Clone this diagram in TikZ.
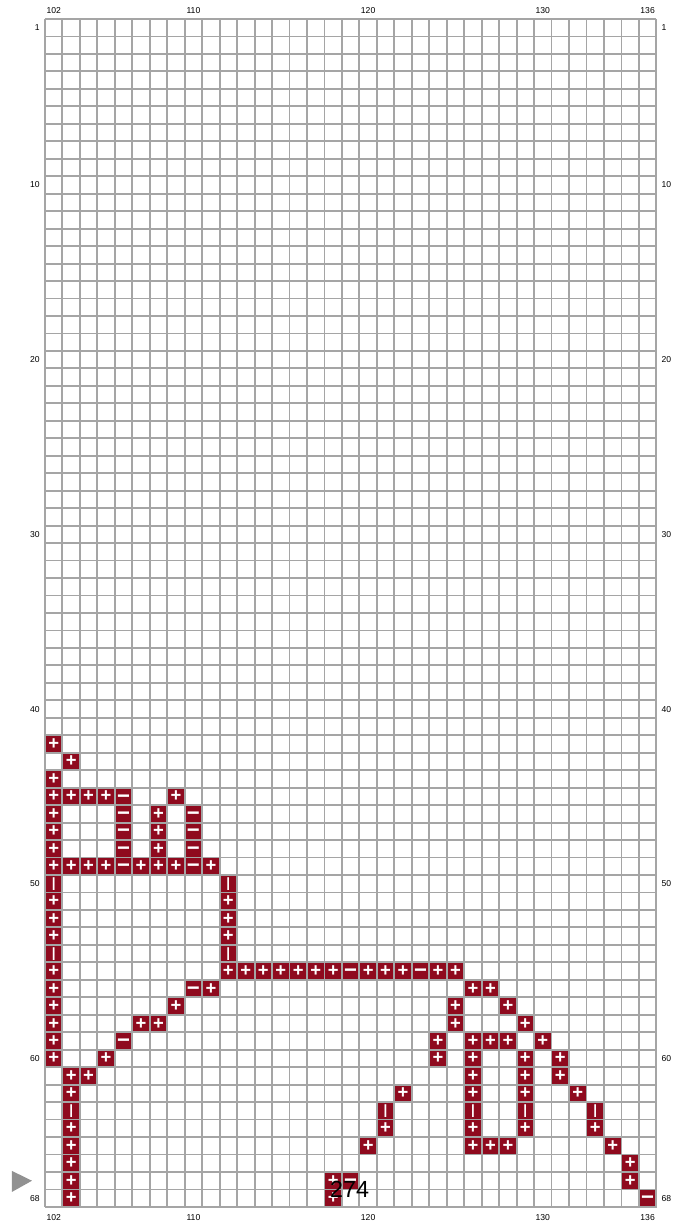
\documentclass[tikz,border=0pt]{standalone}
\usepackage{fontspec}
\setmainfont{Liberation Sans}
\usetikzlibrary{positioning}

\definecolor{cellred}{RGB}{143,10,30}
\definecolor{gridgray}{RGB}{165,165,165}
\definecolor{markgray}{RGB}{145,145,145}

\begin{document}
\begin{tikzpicture}[
    x=0.5cm,
    y=-0.5cm,
    gridline/.style={draw=gridgray, line width=1.5pt},
    cell/.style={draw=gridgray, fill=cellred, line width=1.5pt, minimum size=0.5cm, inner sep=0pt, text=white},
    pluscell/.style={cell, font=\bfseries\fontsize{15}{15}\selectfont, text height=9pt, text depth=0pt},
    minuscell/.style={cell, font=\bfseries\fontsize{18}{18}\selectfont, text height=10.8pt, text depth=0pt},
    barcell/.style={cell, font=\bfseries\fontsize{11}{11}\selectfont, text height=5.7pt, text depth=0pt},
    axlabel/.style={font=\fontsize{7}{7}\selectfont, inner sep=0pt}
  ]
    \useasboundingbox (-2.573,-1.088) rectangle (35.96,69.15);

    % ── Raster 35 x 68 ──
    \foreach \i in {0,...,35} \draw[gridline] (\i,0) -- (\i,68);
    \foreach \j in {0,...,68} \draw[gridline] (0,\j) -- (35,\j);

    % ── Spaltennummern oben und unten ──
    \foreach \c in {102,110,120,130,136} {
        \node[axlabel] (top\c) at (\c-101.5,-0.46) {\c};
        \node[axlabel] (bot\c) at (\c-101.5,68.63) {\c};
    }

    % ── Zeilennummern links und rechts ──
    \foreach \r in {1,10,20,30,40,50,60,68} {
        \node[axlabel, anchor=east] (left\r) at (-0.29,\r-0.5) {\r};
        \node[axlabel, anchor=west] (right\r) at (35.28,\r-0.5) {\r};
    }

    % ── Zellen mit + ──
    \foreach \r/\c in {42/102, 43/103, 44/102,
        45/102, 45/103, 45/104, 45/105, 45/109,
        46/102, 46/108, 47/102, 47/108, 48/102, 48/108,
        49/102, 49/103, 49/104, 49/105, 49/107, 49/108, 49/109, 49/111,
        51/102, 51/112, 52/102, 52/112, 53/102, 53/112,
        55/102, 55/112, 55/113, 55/114, 55/115, 55/116, 55/117, 55/118,
        55/120, 55/121, 55/122, 55/124, 55/125,
        56/102, 56/111, 56/126, 56/127,
        57/102, 57/109, 57/125, 57/128,
        58/102, 58/107, 58/108, 58/125, 58/129,
        59/102, 59/124, 59/126, 59/127, 59/128, 59/130,
        60/102, 60/105, 60/124, 60/126, 60/129, 60/131,
        61/103, 61/104, 61/126, 61/129, 61/131,
        62/103, 62/122, 62/126, 62/129, 62/132,
        64/103, 64/121, 64/126, 64/129, 64/133,
        65/103, 65/120, 65/126, 65/127, 65/128, 65/134,
        66/103, 66/135, 67/103, 67/118, 67/135, 68/103, 68/118}
        \node[pluscell] (c\r x\c) at (\c-101.5,\r-0.5) {+};

    % ── Zellen mit − ──
    \foreach \r/\c in {45/106, 46/106, 46/110, 47/106, 47/110, 48/106, 48/110,
        49/106, 49/110, 55/119, 55/123, 56/110, 59/106, 67/119, 68/136}
        \node[minuscell] (c\r x\c) at (\c-101.5,\r-0.5) {−};

    % ── Zellen mit | ──
    \foreach \r/\c in {50/102, 50/112, 54/102, 54/112,
        63/103, 63/121, 63/126, 63/129, 63/133}
        \node[barcell] (c\r x\c) at (\c-101.5,\r-0.5) {|};

    % ── Zeiger und Zähler ──
    \fill[markgray] (-1.887,65.94) -- (-0.743,66.5) -- (-1.887,67.14) -- cycle;
    \node[font=\fontsize{19}{19}\selectfont, inner sep=0pt] (count) at (17.44,66.97) {274};
  \end{tikzpicture}
\end{document}
